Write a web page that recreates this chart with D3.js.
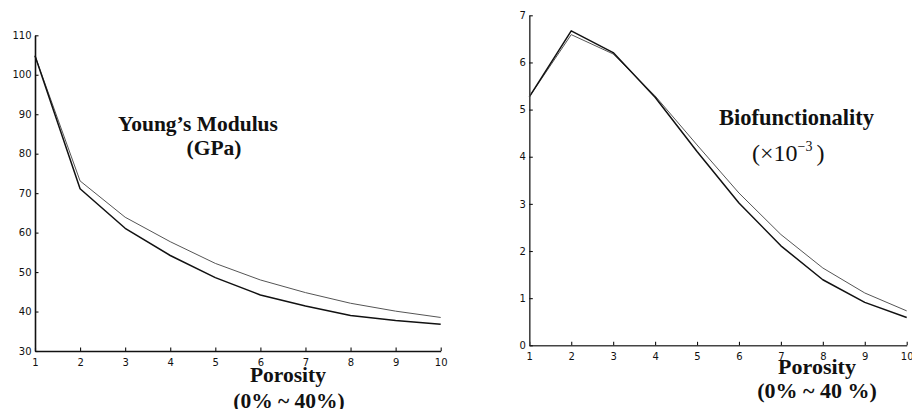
<!DOCTYPE html>
<html>
<head>
<meta charset="utf-8">
<script src="https://cdn.jsdelivr.net/npm/d3@7"></script>
<style>
  html, body { margin: 0; padding: 0; background: #fff; }
  svg { display: block; }
  .tick text { font-family: "DejaVu Sans", sans-serif; font-size: 10px; fill: #111; }
  .ttl { font-family: "Liberation Serif", "Times New Roman", serif; font-weight: bold; fill: #111; }
</style>
</head>
<body>
<svg id="chart" width="912" height="409"></svg>
<script>
// ---- data ----
const porosityIndex = [1, 2, 3, 4, 5, 6, 7, 8, 9, 10];
const youngLower = [104.8, 71.1, 61.1, 54.2, 48.6, 44.2, 41.4, 39.0, 37.7, 36.8];
const youngUpper = [104.8, 73.1, 63.9, 57.7, 52.2, 48.0, 44.8, 42.1, 40.1, 38.5];
const bioDark = [5.27, 6.67, 6.21, 5.26, 4.11, 3.02, 2.11, 1.39, 0.91, 0.59];
const bioGrey = [5.27, 6.59, 6.18, 5.29, 4.25, 3.23, 2.35, 1.64, 1.11, 0.73];
const youngTicks = [30, 40, 50, 60, 70, 80, 90, 100, 110];
const bioTicks = [0, 1, 2, 3, 4, 5, 6, 7];

const svg = d3.select("#chart");

function panel(opts) {
  const x = d3.scaleLinear().domain([1, 10]).range(opts.xRange);
  const y = d3.scaleLinear().domain(opts.yDomain).range(opts.yRange);
  const g = svg.append("g");

  const line = d3.line().x((d, i) => x(porosityIndex[i])).y(d => y(d));
  opts.series.forEach(s => {
    g.append("path").datum(s.values)
      .attr("fill", "none").attr("stroke", s.color)
      .attr("stroke-width", s.width).attr("stroke-linejoin", "round")
      .attr("d", line);
  });

  const xAxis = g.append("g")
    .attr("transform", `translate(0,${opts.yRange[0]})`)
    .call(d3.axisBottom(x).tickValues(porosityIndex).tickFormat(d3.format("d"))
      .tickSizeInner(-3.5).tickSizeOuter(0).tickPadding(8));
  const yAxis = g.append("g")
    .attr("transform", `translate(${opts.xRange[0]},0)`)
    .call(d3.axisLeft(y).tickValues(opts.yTicks).tickFormat(d3.format("d"))
      .tickSizeInner(-3.5).tickSizeOuter(0).tickPadding(3.5));
  [xAxis, yAxis].forEach(a => {
    a.select(".domain").attr("stroke", opts.axisColor).attr("stroke-width", 1.6);
    a.selectAll(".tick line").attr("stroke", "#111").attr("stroke-width", 1.1);
  });
  return g;
}

const left = panel({
  xRange: [35, 440.7], yDomain: [30, 110], yRange: [351, 35.3], yTicks: youngTicks,
  axisColor: "#111",
  series: [
    { values: youngUpper, color: "#555", width: 1 },
    { values: youngLower, color: "#111", width: 1.5 }
  ]
});
const right = panel({
  xRange: [529.3, 906.7], yDomain: [0, 7], yRange: [345.3, 15.3], yTicks: bioTicks,
  axisColor: "#444",
  series: [
    { values: bioGrey, color: "#555", width: 1 },
    { values: bioDark, color: "#111", width: 1.5 }
  ]
});

// ---- titles ----
function txt(x, y, s, size, anchor) {
  return svg.append("text").attr("class", "ttl").attr("x", x).attr("y", y)
    .attr("font-size", size).attr("text-anchor", anchor || "middle").text(s);
}
txt(198, 131, "Young\u2019s Modulus", 21.5);
txt(214, 155, "(GPa)", 21.5);
txt(288, 381.5, "Porosity", 21.5);
txt(289, 408, "(0% ~ 40%)", 21.5);

txt(796.5, 125, "Biofunctionality", 22.5);
txt(817, 374, "Porosity", 22);
txt(817, 398, "(0% ~ 40 %)", 22);

const sci = svg.append("text").attr("x", 752).attr("y", 161)
  .attr("font-family", "'Liberation Serif', 'Times New Roman', serif")
  .attr("font-size", 24).attr("fill", "#111");
sci.append("tspan").text("(\u00d710");
sci.append("tspan").attr("font-size", 14).attr("dy", -10).text("\u22123");
sci.append("tspan").attr("dy", 10).attr("dx", 4).text(")");
</script>
</body>
</html>
